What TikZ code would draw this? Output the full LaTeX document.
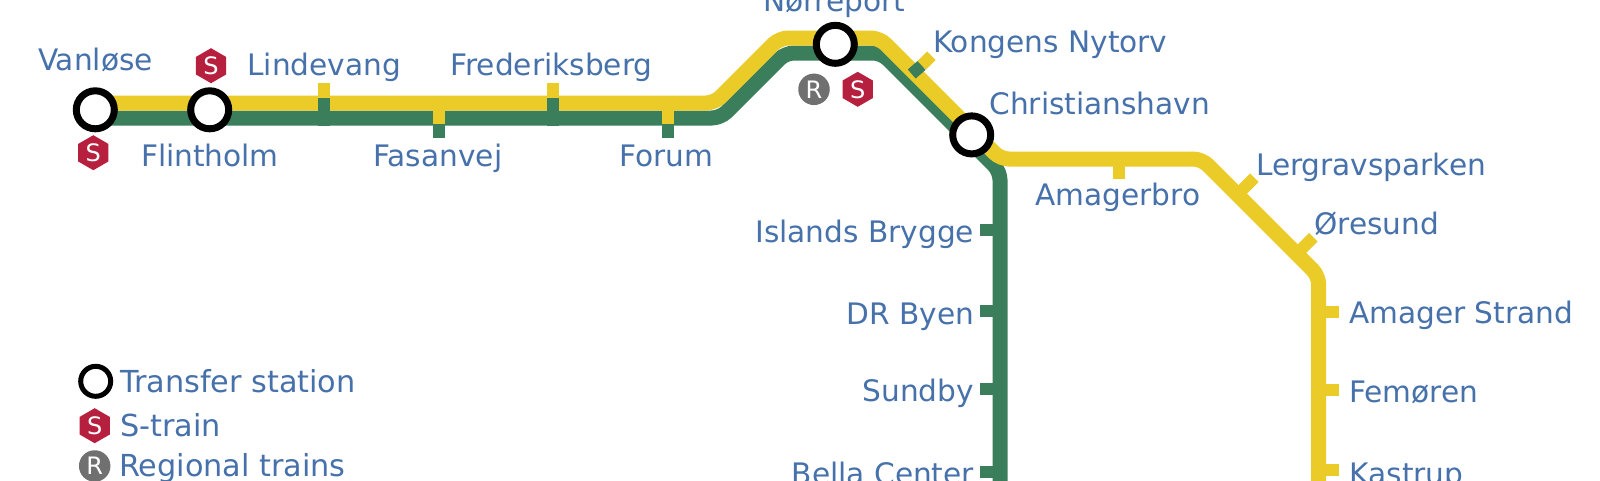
\documentclass[tikz,border=0pt]{standalone}
\usepackage{fontspec}
\setmainfont{DejaVu Sans}
\usetikzlibrary{shapes.geometric}
\definecolor{metroY}{HTML}{EACB27}
\definecolor{metroG}{HTML}{3B7E5C}
\definecolor{labelB}{HTML}{4671AA}
\definecolor{hexR}{HTML}{B71F3E}
\definecolor{regG}{HTML}{707070}
\tikzset{
  x=1pt,y=-1pt,
  yline/.style={draw=metroY,line width=15pt,rounded corners=8.5pt},
  gline/.style={draw=metroG,line width=15pt,rounded corners=8.5pt},
  ytick/.style={draw=metroY,line width=12pt},
  gtick/.style={draw=metroG,line width=12pt},
  ring/.style={circle,draw=black,fill=white,line width=7pt,minimum size=38pt,inner sep=0pt,outer sep=0pt},
  smallring/.style={circle,draw=black,fill=white,line width=5pt,minimum size=30pt,inner sep=0pt,outer sep=0pt},
  lbl/.style={text=labelB,font=\fontsize{29.6}{34}\selectfont,inner sep=0pt,outer sep=0pt},
  lw/.style={lbl,anchor=base west},
  le/.style={lbl,anchor=base east},
  legt/.style={lw,font=\fontsize{30.3}{34}\selectfont},
  hexs/.style={regular polygon,regular polygon sides=6,shape border rotate=30,fill=hexR,minimum size=35pt,inner sep=0pt,outer sep=0pt,text=white,font=\fontsize{24}{24}\selectfont},
  regs/.style={circle,fill=regG,minimum size=31.5pt,inner sep=0pt,outer sep=0pt,text=white,font=\fontsize{24}{24}\selectfont},
}
\begin{document}
\begin{tikzpicture}
\useasboundingbox (0,0) rectangle (1600,480);
\clip (0,0) rectangle (1600,480);
\fill[white] (0,0) rectangle (1600,480);
% line way-points
\coordinate (g0) at (95,118);
\coordinate (g1) at (720.4,118);
\coordinate (g2) at (785.4,53);
\coordinate (g3) at (881.6,53);
\coordinate (g4) at (1000,171.4);
\coordinate (g5) at (1000,490);
\coordinate (y0) at (95,103);
\coordinate (y1) at (714.5,103);
\coordinate (y2) at (779.5,38);
\coordinate (y3) at (879.4,38);
\coordinate (y4) at (1000.4,159);
\coordinate (y5) at (1201.7,159);
\coordinate (y6) at (1318.7,276);
\coordinate (y7) at (1318.7,490);
\draw[gline] (g0) -- (g1) -- (g2) -- (g3) -- (g4) -- (g5);
\draw[yline] (y0) -- (y1) -- (y2) -- (y3) -- (y4) -- (y5) -- (y6) -- (y7);
% horizontal-section ticks
\foreach \n/\x in {a/324.3,b/552.5}{
  \coordinate (t\n1) at (\x,83.3);
  \coordinate (t\n2) at (\x,97.5);
  \coordinate (t\n3) at (\x,125.5);
  \draw[ytick] (t\n1) -- (t\n2);
  \draw[gtick] (t\n2) -- (t\n3);
}
\foreach \n/\x in {c/439,d/667.5}{
  \coordinate (t\n1) at (\x,103);
  \coordinate (t\n2) at (\x,124);
  \coordinate (t\n3) at (\x,138.3);
  \draw[ytick] (t\n1) -- (t\n2);
  \draw[gtick] (t\n2) -- (t\n3);
}
% Kongens Nytorv tick
\coordinate (k1) at (911.7,74);
\coordinate (k2) at (921.7,65.3);
\coordinate (k3) at (931.3,55.7);
\draw[gtick] (k1) -- (k2);
\draw[ytick] (k2) -- (k3);
% yellow ticks
\coordinate (am1) at (1119.4,159); \coordinate (am2) at (1119.4,179);
\coordinate (lg1) at (1237.4,194.7); \coordinate (lg2) at (1254.3,177.7);
\coordinate (or1) at (1296.6,254); \coordinate (or2) at (1313.3,237.3);
\coordinate (as1) at (1318.7,312); \coordinate (as2) at (1339,312);
\coordinate (fe1) at (1318.7,390); \coordinate (fe2) at (1339,390);
\coordinate (ka1) at (1318.7,470); \coordinate (ka2) at (1339,470);
\draw[ytick] (am1) -- (am2);
\draw[ytick] (lg1) -- (lg2);
\draw[ytick] (or1) -- (or2);
\draw[ytick] (as1) -- (as2);
\draw[ytick] (fe1) -- (fe2);
\draw[ytick] (ka1) -- (ka2);
% green ticks
\coordinate (ib1) at (1000,230); \coordinate (ib2) at (980,230);
\coordinate (dr1) at (1000,311); \coordinate (dr2) at (980,311);
\coordinate (su1) at (1000,389); \coordinate (su2) at (980,389);
\coordinate (be1) at (1000,472); \coordinate (be2) at (980,472);
\draw[gtick] (ib1) -- (ib2);
\draw[gtick] (dr1) -- (dr2);
\draw[gtick] (su1) -- (su2);
\draw[gtick] (be1) -- (be2);
% transfer stations
\node[ring] (vanlose) at (95.3,109.8) {};
\node[ring] (flintholm) at (209.7,109.8) {};
\node[ring] (norreport) at (835.3,44.3) {};
\node[ring] (christianshavn) at (971.7,134.9) {};
% interchange badges
\node[hexs] (s1) at (93.3,152.7) {S};
\node[hexs] (s2) at (211,65.7) {S};
\node[regs] (r1) at (814,89.3) {R};
\node[hexs] (s3) at (857.7,89.3) {S};
% station labels
\node[lw] (l1) at (38,70.7) {Vanløse};
\node[lw] (l2) at (247.5,75) {Lindevang};
\node[lw] (l3) at (141,166.7) {Flintholm};
\node[lw] (l4) at (373.5,166) {Fasanvej};
\node[lw] (l5) at (450.5,75) {Frederiksberg};
\node[lw] (l6) at (619.5,166) {Forum};
\node[lw] (l7) at (763,11.7) {Nørreport};
\node[lw] (l8) at (933,52.5) {Kongens Nytorv};
\node[lw] (l9) at (989.5,114) {Christianshavn};
\node[lw] (l10) at (1035.5,205) {Amagerbro};
\node[lw] (l11) at (1256,175) {Lergravsparken};
\node[lw] (l12) at (1314.5,234) {Øresund};
\node[lw] (l13) at (1349,323.3) {Amager Strand};
\node[lw] (l14) at (1349,402) {Femøren};
\node[lw] (l15) at (1349.5,484) {Kastrup};
\node[le] (l16) at (974,242.5) {Islands Brygge};
\node[le] (l17) at (974,324) {DR Byen};
\node[le] (l18) at (974,401.7) {Sundby};
\node[le] (l19) at (974,484.5) {Bella Center};
% legend
\node[smallring] (legring) at (95.7,381.3) {};
\node[hexs] (legs) at (94.7,425.7) {S};
\node[regs] (legr) at (94.7,466) {R};
\node[legt] (t1) at (120,392.3) {Transfer station};
\node[legt] (t2) at (120,436) {S-train};
\node[legt] (t3) at (119,476.7) {Regional trains};
\end{tikzpicture}
\end{document}
